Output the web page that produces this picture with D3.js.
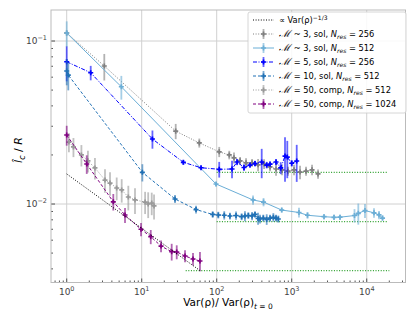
<!DOCTYPE html>
<meta charset="utf-8">
<script src="https://d3js.org/d3.v7.min.js"></script>
<style>
body { margin: 0; background: #fff; }
svg text { font-family: "DejaVu Sans", sans-serif; }
</style>
<div id="chart"></div>
<script>
// values
var m3s256_x = [1, 3.17, 28.4, 58.6, 108, 147, 170, 205, 246, 296, 356, 428, 514, 618, 743, 893, 1074, 1291, 1552, 1866, 2244];
var m3s256_y = [0.112, 0.0703, 0.0280, 0.0237, 0.0209, 0.0200, 0.0192, 0.0184, 0.0179, 0.0179, 0.0174, 0.0176, 0.0169, 0.0164, 0.0162, 0.0159, 0.0162, 0.0157, 0.0159, 0.0162, 0.0153];
var m3s256_e = [0, 0.013, 0.003, 0.0015, 0.0015, 0.0012, 0.0015, 0.001, 0.0012, 0.001, 0.0015, 0.0012, 0.001, 0.0015, 0.0012, 0.001, 0.0012, 0.0015, 0.001, 0.0012, 0.001];

var m3s512_x = [1, 5.35, 97.9, 305, 421, 736, 1250, 1624, 2697, 3664, 4406, 6871, 7724, 9484, 12500, 14590, 16250];
var m3s512_y = [0.112, 0.0524, 0.01327, 0.01059, 0.01028, 0.00918, 0.00887, 0.00853, 0.00836, 0.00829, 0.0083, 0.0085, 0.00877, 0.00912, 0.00883, 0.00857, 0.0082];
var m3s512_e = [0.02, 0.0087, 0.0004, 0.0007, 0.0006, 0.0003, 0.0006, 0.0004, 0.0003, 0.0003, 0.0003, 0.0008, 0.0013, 0.0009, 0.0006, 0.0005, 0.0003];

var m5s256_x = [1, 2.09, 13.9, 35.9, 61.8, 108, 160, 187, 231, 278, 324, 398, 464, 514, 618, 713, 814, 873, 1000, 1166];
var m5s256_y = [0.0746, 0.0639, 0.02505, 0.01803, 0.0167, 0.01633, 0.0164, 0.01811, 0.01676, 0.01734, 0.0177, 0.0181, 0.01734, 0.01758, 0.0181, 0.01665, 0.01968, 0.0194, 0.01778, 0.01837];
var m5s256_e = [0.018, 0.0065, 0.0032, 0.0006, 0.0005, 0.0018, 0.002, 0.0008, 0.0008, 0.0006, 0.0007, 0.0037, 0.0008, 0.0006, 0.0008, 0.0014, 0.006, 0.005, 0.0008, 0.0047];

var m10s512_x = [1, 1.05, 10.2, 27.8, 53.0, 88.4, 105, 126, 150, 181, 215, 238, 264, 296, 324, 356, 378, 418, 464, 514, 569, 618, 663];
var m10s512_y = [0.0655, 0.0618, 0.01565, 0.01074, 0.00925, 0.00863, 0.00856, 0.00853, 0.00844, 0.0085, 0.00836, 0.00844, 0.0085, 0.00844, 0.00863, 0.00815, 0.00809, 0.0082, 0.00805, 0.0082, 0.00829, 0.0082, 0.00809];
var m10s512_e = [0.012, 0.012, 0.0019, 0.0006, 0.0005, 0.0004, 0.0004, 0.0005, 0.0004, 0.0005, 0.0004, 0.0006, 0.0004, 0.0005, 0.0004, 0.0007, 0.0005, 0.0004, 0.0006, 0.0004, 0.0005, 0.0004, 0.0004];

var m50c512_x = [1.07, 1.23, 1.57, 1.92, 2.38, 3.24, 3.78, 4.64, 5.41, 6.63, 8.14, 11.1, 12.2, 13.6, 14.6];
var m50c512_y = [0.0240, 0.0224, 0.0200, 0.0184, 0.01665, 0.01403, 0.01345, 0.01254, 0.0122, 0.01104, 0.01059, 0.01028, 0.0100, 0.01014, 0.00973];
var m50c512_e = [0.0032, 0.003, 0.003, 0.0028, 0.0025, 0.0023, 0.0022, 0.002, 0.002, 0.0019, 0.0019, 0.0016, 0.0018, 0.0016, 0.0017];

var m50c1024_x = [1, 1.85, 4.18, 5.99, 9.79, 13.2, 18.1, 25.1, 29.3, 37.8, 48.3, 59.8];
var m50c1024_y = [0.0265, 0.0176, 0.01032, 0.00856, 0.0070, 0.0063, 0.00552, 0.0051, 0.00508, 0.0048, 0.0046, 0.00447];
var m50c1024_e = [0.0037, 0.0023, 0.0012, 0.0009, 0.00066, 0.00063, 0.00046, 0.0006, 0.0005, 0.0004, 0.0004, 0.0006];

// power law guide, two end points
var guide_x = [1, 60];
var guide_y = [0.0153, 0.0039];

// green plateau lines
var plateau_y = [0.01565, 0.00779, 0.0039];
var plateau_x0 = [100, 100, 38.6];
var plateau_x1 = [19200, 19200, 20000];

var xTicks = [1, 10, 100, 1000, 10000];
var yTicks = [0.01, 0.1];

var width = 415, height = 319;
// plot box (note: "top" is a reserved window property, so prefixed names)
var pLeft = 51, pRight = 405.5, pTop = 10, pBottom = 282.5;

var svg = d3.select("#chart").append("svg")
  .attr("width", width)
  .attr("height", height);

var x = d3.scaleLog().domain([0.6174, 32890]).range([pLeft, pRight]);
var y = d3.scaleLog().domain([0.0033, 0.155]).range([pBottom, pTop]);

// grid
svg.append("g").selectAll("line").data(xTicks).enter().append("line")
  .attr("x1", d => x(d)).attr("x2", d => x(d))
  .attr("y1", pTop).attr("y2", pBottom)
  .attr("stroke", "#d0d0d0").attr("stroke-width", 1);
svg.append("g").selectAll("line").data(yTicks).enter().append("line")
  .attr("y1", d => y(d)).attr("y2", d => y(d))
  .attr("x1", pLeft).attr("x2", pRight)
  .attr("stroke", "#d0d0d0").attr("stroke-width", 1);

// ticks (pointing inward) with minor ticks
var xMinor = [], yMinor = [];
for (var p = -1; p <= 4; p++) for (var k = 2; k <= 9; k++) {
  var v = k * Math.pow(10, p);
  if (v > x.domain()[0] && v < x.domain()[1]) xMinor.push(v);
}
for (var p = -3; p <= -1; p++) for (var k = 2; k <= 9; k++) {
  var v = k * Math.pow(10, p);
  if (v > y.domain()[0] && v < y.domain()[1]) yMinor.push(v);
}
var tickG = svg.append("g").attr("stroke", "#555");
tickG.selectAll(".xmaj").data(xTicks).enter().append("line")
  .attr("x1", d => x(d)).attr("x2", d => x(d)).attr("y1", pBottom).attr("y2", pBottom - 4);
tickG.selectAll(".xmin").data(xMinor).enter().append("line")
  .attr("x1", d => x(d)).attr("x2", d => x(d)).attr("y1", pBottom).attr("y2", pBottom - 2);
tickG.selectAll(".ymaj").data(yTicks).enter().append("line")
  .attr("y1", d => y(d)).attr("y2", d => y(d)).attr("x1", pLeft).attr("x2", pLeft + 4);
tickG.selectAll(".ymin").data(yMinor).enter().append("line")
  .attr("y1", d => y(d)).attr("y2", d => y(d)).attr("x1", pLeft).attr("x2", pLeft + 2);

// frame
svg.append("rect")
  .attr("x", pLeft).attr("y", pTop)
  .attr("width", pRight - pLeft).attr("height", pBottom - pTop)
  .attr("fill", "none").attr("stroke", "#bbb").attr("stroke-width", 1);

// tick labels
var xl = svg.append("g").selectAll("text").data(xTicks).enter().append("text")
  .attr("x", d => x(d)).attr("y", 295)
  .attr("text-anchor", "middle").attr("font-size", 9).attr("fill", "#444");
xl.append("tspan").text("10");
xl.append("tspan").attr("dy", -4).attr("font-size", 6.5).text(d => Math.round(Math.log10(d)));

var yl = svg.append("g").selectAll("text").data(yTicks).enter().append("text")
  .attr("x", 47).attr("y", d => y(d) + 3)
  .attr("text-anchor", "end").attr("font-size", 9).attr("fill", "#444");
yl.append("tspan").text("10");
yl.append("tspan").attr("dy", -4).attr("font-size", 6.5).text(d => "\u2212" + Math.round(-Math.log10(d)));

// axis labels
var xt = svg.append("text").attr("x", 228).attr("y", 306)
  .attr("text-anchor", "middle").attr("font-size", 10.5).attr("fill", "#000");
xt.append("tspan").text("Var(\u03c1)/ Var(\u03c1)");
xt.append("tspan").attr("dy", 3).attr("font-size", 7.5).attr("font-style", "italic").text("t");
xt.append("tspan").attr("font-size", 7.5).text(" = 0");

var yt = svg.append("text").attr("transform", "translate(22,150) rotate(-90)")
  .attr("text-anchor", "middle").attr("font-size", 11).attr("fill", "#000");
yt.append("tspan").attr("font-style", "italic").text("l\u0302");
yt.append("tspan").attr("dy", 3).attr("font-size", 8).attr("font-style", "italic").text("c");
yt.append("tspan").attr("dy", -3).text(" / ");
yt.append("tspan").attr("font-style", "italic").text("R");

var plot = svg.append("g");

// plateau lines
plateau_y.forEach(function(v, i) {
  plot.append("line")
    .attr("x1", x(plateau_x0[i])).attr("x2", x(plateau_x1[i]))
    .attr("y1", y(v)).attr("y2", y(v))
    .attr("stroke", "#2ca02c").attr("stroke-width", 1.2).attr("stroke-dasharray", "1,1.6");
});

var series = [
  {xs: m3s256_x, ys: m3s256_y, es: m3s256_e, color: "#7f7f7f", dash: "1,1.6", w: 1},
  {xs: m3s512_x, ys: m3s512_y, es: m3s512_e, color: "#6baed6", dash: null, w: 1},
  {xs: m5s256_x, ys: m5s256_y, es: m5s256_e, color: "#0000ff", dash: "4,1.5,1,1.5", w: 1},
  {xs: m10s512_x, ys: m10s512_y, es: m10s512_e, color: "#2171b5", dash: "3,2", w: 1},
  {xs: m50c512_x, ys: m50c512_y, es: m50c512_e, color: "#999999", dash: "1,1.6", w: 1},
  {xs: m50c1024_x, ys: m50c1024_y, es: m50c1024_e, color: "#800080", dash: "3,2", w: 1}
];

var line = d3.line().x(d => x(d[0])).y(d => y(d[1]));
var marker = d3.symbol().type(d3.symbolCross).size(14);

series.forEach(function(s) {
  var pts = s.xs.map((v, i) => [v, s.ys[i], s.es[i]]);
  var g = plot.append("g");
  g.selectAll("line").data(pts).enter().append("line")
    .attr("x1", d => x(d[0])).attr("x2", d => x(d[0]))
    .attr("y1", d => y(d[1] + d[2])).attr("y2", d => y(Math.max(d[1] - d[2], 1e-4)))
    .attr("stroke", s.color).attr("stroke-width", 1.8).attr("opacity", 0.6);
  g.append("path").datum(pts).attr("d", line)
    .attr("fill", "none").attr("stroke", s.color).attr("stroke-width", s.w)
    .attr("stroke-dasharray", s.dash);
  g.selectAll("path.m").data(pts).enter().append("path").attr("class", "m")
    .attr("d", marker)
    .attr("transform", d => "translate(" + x(d[0]) + "," + y(d[1]) + ")")
    .attr("fill", s.color);
});

// guide
plot.append("path").datum(guide_x.map((v, i) => [v, guide_y[i]])).attr("d", line)
  .attr("fill", "none").attr("stroke", "#000").attr("stroke-width", 1)
  .attr("stroke-dasharray", "1,1.6");

// legend
var lg = svg.append("g");
lg.append("rect").attr("x", 248).attr("y", 12).attr("width", 158).attr("height", 101)
  .attr("rx", 2).attr("fill", "#fff").attr("fill-opacity", 0.85)
  .attr("stroke", "#ccc").attr("stroke-width", 0.8);

var entries = [
  {color: "#000", dash: "1,1.6", bar: false, label: "guide"},
  {color: "#7f7f7f", dash: "1,1.6", bar: true, label: " ~ 3, sol, ", n: "256"},
  {color: "#6baed6", dash: null, bar: true, label: " ~ 3, sol, ", n: "512"},
  {color: "#0000ff", dash: "4,1.5,1,1.5", bar: true, label: " = 5, sol, ", n: "256"},
  {color: "#2171b5", dash: "3,2", bar: true, label: " = 10, sol, ", n: "512"},
  {color: "#999999", dash: "1,1.6", bar: true, label: " = 50, comp, ", n: "512"},
  {color: "#800080", dash: "3,2", bar: true, label: " = 50, comp, ", n: "1024"}
];

entries.forEach(function(e, i) {
  var cy = 20 + i * 14;
  lg.append("line").attr("x1", 253).attr("x2", 274).attr("y1", cy).attr("y2", cy)
    .attr("stroke", e.color).attr("stroke-width", 1).attr("stroke-dasharray", e.dash);
  if (e.bar) {
    lg.append("line").attr("x1", 263.5).attr("x2", 263.5).attr("y1", cy - 5).attr("y2", cy + 5)
      .attr("stroke", e.color).attr("stroke-width", 1.8).attr("opacity", 0.6);
    lg.append("path").attr("d", marker).attr("transform", "translate(263.5," + cy + ")")
      .attr("fill", e.color);
  }
  var t = lg.append("text").attr("x", 279).attr("y", cy + 3).attr("font-size", 8.3).attr("fill", "#000");
  if (e.label === "guide") {
    t.append("tspan").text("\u221d Var(\u03c1)");
    t.append("tspan").attr("dy", -3.5).attr("font-size", 6).text("\u22121/3");
  } else {
    t.append("tspan").attr("font-size", 10).attr("font-family", "'DejaVu Serif', serif").attr("font-style", "italic").text("\u2133");
    t.append("tspan").text(e.label);
    t.append("tspan").attr("font-style", "italic").text("N");
    t.append("tspan").attr("dy", 2).attr("font-size", 6).attr("font-style", "italic").text("res");
    t.append("tspan").attr("dy", -2).text(" = " + e.n);
  }
});
</script>
